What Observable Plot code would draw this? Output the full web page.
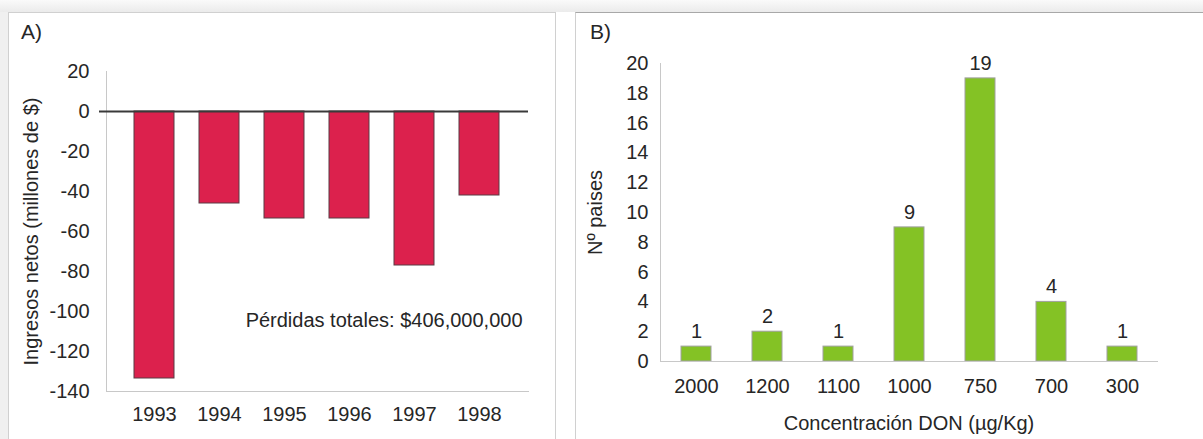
<!DOCTYPE html>
<html><head><meta charset="utf-8">
<script src="https://cdn.jsdelivr.net/npm/d3@7"></script>
<script src="https://cdn.jsdelivr.net/npm/@observablehq/plot@0.6"></script>
<style>
body{margin:0;width:1203px;height:439px;overflow:hidden;background:#fff;font-family:"Liberation Sans",Arial,sans-serif;position:relative}
#topstrip{position:absolute;left:0;top:0;width:1203px;height:12px;background:linear-gradient(#fafafa,#ebebeb)}
#leftstrip{position:absolute;left:0;top:12px;width:8px;height:427px;background:#f0f0f0}
#panelA{position:absolute;left:8px;top:12px;width:546px;height:440px;border:1px solid #d0d0d0;background:#fff}
#panelB{position:absolute;left:575px;top:12px;width:640px;height:440px;border:1px solid #d0d0d0;border-top-color:#a8a8a8;background:#fff}
.tag{position:absolute;font-size:21px;line-height:1.15;color:#262626}
#chartA{position:absolute;left:0;top:0}
#chartB{position:absolute;left:560px;top:0}
</style>
</head><body>
<div id="topstrip"></div><div id="leftstrip"></div>
<div id="panelA"></div><div id="panelB"></div>
<div class="tag" style="left:21px;top:20px">A)</div>
<div class="tag" style="left:590px;top:20px">B)</div>
<div id="chartA"></div><div id="chartB"></div>
<script>
// Panel A data
const years = ["1993","1994","1995","1996","1997","1998"];
const ingresos = [-133.5,-46,-53.5,-53.5,-77,-42];
const yTicksA = [20,0,-20,-40,-60,-80,-100,-120,-140];
const notaA = ["Pérdidas totales: $406,000,000"];
// Panel B data
const concentraciones = ["2000","1200","1100","1000","750","700","300"];
const paises = [1,2,1,9,19,4,1];
const yTicksB = [0,2,4,6,8,10,12,14,16,18,20];

const font = {fontFamily:"'Liberation Sans', Arial, sans-serif", fontSize:"20px", color:"#262626", background:"transparent", overflow:"visible"};

const dataA = years.map((y,i)=>({year:y, value:ingresos[i]}));
const chartA = Plot.plot({
  width:560, height:439, marginTop:71, marginBottom:48, marginLeft:106, marginRight:32,
  style:font,
  x:{domain:years, paddingInner:0.38, paddingOuter:0.387},
  y:{domain:[-140,20]},
  marks:[
    Plot.frame({anchor:"left", stroke:"#c8c8c8"}),
    Plot.frame({anchor:"bottom", stroke:"#c8c8c8"}),
    Plot.barY(dataA,{x:"year", y:"value", fill:"#dc214d", stroke:"#5b3b45", strokeWidth:1}),
    Plot.ruleY([0],{stroke:"#3a3a3a", strokeWidth:2, insetLeft:-7}),
    Plot.axisY({ticks:yTicksA, tickSize:0, tickPadding:17, tickFormat:d=>String(d), label:"Ingresos netos (millones de $)", labelArrow:false, labelAnchor:"center", labelOffset:83}),
    Plot.axisX({tickSize:0, tickPadding:15, label:null}),
    Plot.text(notaA,{text:d=>d, y:()=>-104.5, frameAnchor:"right", textAnchor:"end", dx:-6})
  ]
});
document.getElementById("chartA").append(chartA);

const dataB = concentraciones.map((c,i)=>({conc:c, n:paises[i]}));
const chartB = Plot.plot({
  width:643, height:439, marginTop:63, marginBottom:78, marginLeft:100, marginRight:46,
  style:font,
  x:{domain:concentraciones, paddingInner:0.58, paddingOuter:0.29},
  y:{domain:[0,20]},
  marks:[
    Plot.frame({anchor:"left", stroke:"#c8c8c8"}),
    Plot.barY(dataB,{x:"conc", y:"n", fill:"#84c225", stroke:"#a0a0a0", strokeWidth:1}),
    Plot.frame({anchor:"bottom", stroke:"#c8c8c8"}),
    Plot.text(dataB,{x:"conc", y:"n", text:d=>String(d.n), dy:-15}),
    Plot.axisY({ticks:yTicksB, tickSize:0, tickPadding:12, tickFormat:d=>String(d), label:"Nº paises", labelArrow:false, labelAnchor:"center", labelOffset:73}),
    Plot.axisX({tickSize:0, tickPadding:17, label:"Concentración DON (µg/Kg)", labelArrow:false, labelAnchor:"center", labelOffset:68})
  ]
});
document.getElementById("chartB").append(chartB);
</script>
</body></html>
